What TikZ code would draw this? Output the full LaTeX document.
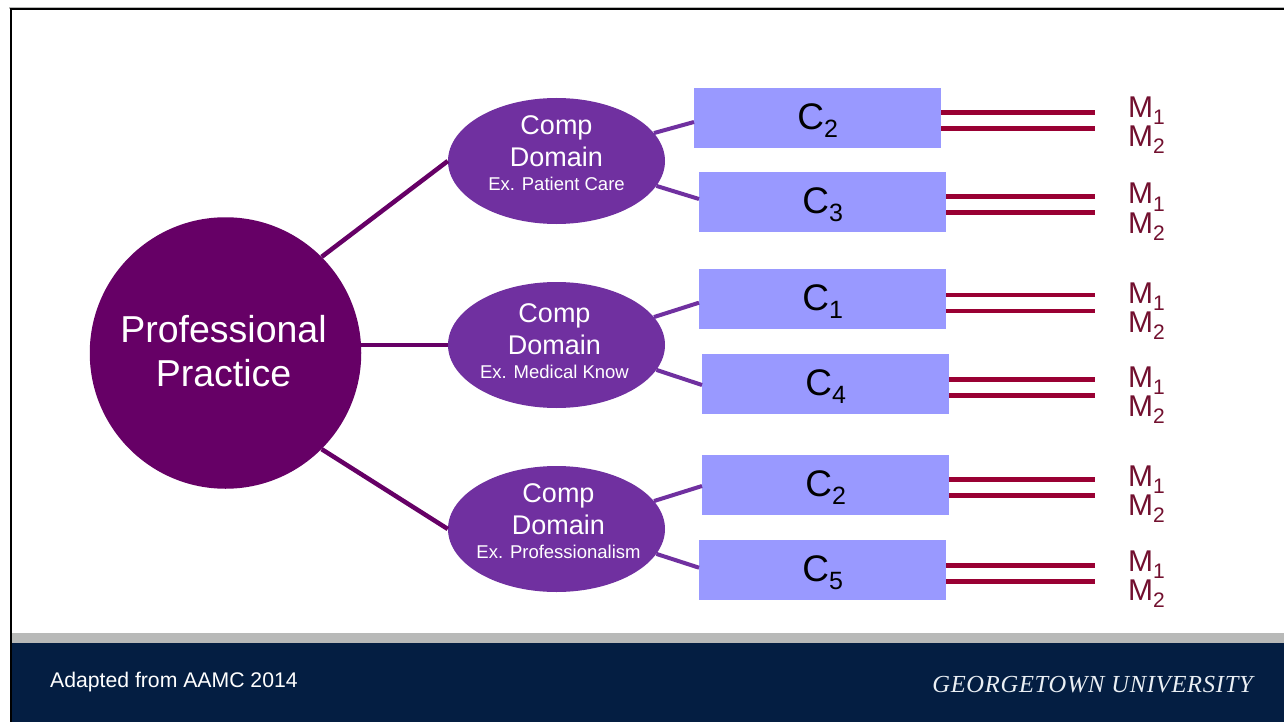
\documentclass[tikz,border=0pt]{standalone}
\usepackage{fontspec}
\setmainfont{Liberation Sans}
\newfontfamily\gufont[LetterSpace=3.0]{Liberation Serif}
\usetikzlibrary{shapes.geometric}
\definecolor{practice}{HTML}{660066}
\definecolor{domain}{HTML}{7030A0}
\definecolor{comp}{HTML}{9999FF}
\definecolor{measure}{HTML}{990033}
\definecolor{mlabel}{HTML}{72102F}
\definecolor{navy}{HTML}{041E42}
\definecolor{band}{HTML}{B8B9B8}
\definecolor{logotext}{HTML}{EAEFF4}
\newcommand{\placed}[3]{\smash{\makebox[0pt]{\kern#1pt\raisebox{#2pt}{#3}}}}
\newcommand{\withsub}[5]{{\fontsize{#1}{#1}\selectfont #3\raisebox{-#4pt}{\fontsize{#2}{#2}\selectfont #5}}}
\newcommand{\domtext}[3]{\placed{#1}{#2}{\parbox[t]{200pt}{\centering\fontsize{27}{32}\selectfont Comp\\Domain\\\fontsize{18.5}{24}\selectfont Ex. #3}}}
\tikzset{
	domnode/.style={ellipse,fill=domain,text=white,minimum width=217pt,minimum height=126pt,inner sep=0pt},
	compnode/.style={rectangle,fill=comp,minimum width=247pt,minimum height=60pt,inner sep=0pt},
	mnode/.style={anchor=base west,text=mlabel,inner sep=0pt},
	linkbig/.style={draw=practice,line width=4.5pt},
	linksmall/.style={draw=domain,line width=4pt},
	linkm/.style={draw=measure,line width=4.5pt}
}
\begin{document}
\begin{tikzpicture}[x=1pt,y=-1pt]
	\useasboundingbox (0,0) rectangle (1284,722);
	\fill[white] (0,0) rectangle (1284,722);
	% frame and footer
	\fill[band] (9,7.5) rectangle (1284,9);
	\fill[black] (10,8.5) rectangle (1284,10.5);
	\fill[black] (9.5,8.5) rectangle (11.5,722);
	\fill[band] (11.5,633) rectangle (1284,643);
	\fill[navy] (11.5,643) rectangle (1284,722);
	\node[anchor=base west,text=white,inner sep=0pt,font=\fontsize{21.2}{22}\selectfont] (source) at (50,687.5) {Adapted from AAMC 2014};
	\node[anchor=base east,text=logotext,inner sep=0pt,font=\gufont\itshape\fontsize{24.5}{25}\selectfont] (logo) at (1253,692.5) {GEORGETOWN UNIVERSITY};
	% main circle and domains
	\node[circle,fill=practice,text=white,minimum size=271.5pt,inner sep=0pt] (pp) at (225.5,353) {\placed{-4}{11}{\parbox[t]{260pt}{\centering\fontsize{37.5}{44}\selectfont Professional\\Practice}}};
	\node[domnode] (dom1) at (556.5,161) {\domtext{0}{26.7}{Patient Care}};
	\node[domnode] (dom2) at (556.5,345) {\domtext{-4}{22.7}{Medical Know}};
	\node[domnode] (dom3) at (556.5,529) {\domtext{4}{26.7}{Professionalism}};
	\draw[linkbig] (pp.45) -- (dom1.west);
	\draw[linkbig] (dom2.west -| pp.east) -- (dom2.west);
	\draw[linkbig] (pp.-45) -- (dom3.west);
	% competencies with two measures each
	\foreach \nm/\num/\xl/\yc/\dm/\ang/\dy/\ym/\yb in {a/2/694/118/dom1/16/4/112.7/117.3,b/3/699/202/dom1/-14/-3/196.3/204,c/1/699/299/dom2/16/3.7/295/303.3,d/4/702/384/dom2/-14/1/379.7/387.3,e/2/702/485/dom3/16/1/479.7/486,f/5/699/570/dom3/-14/-2.3/565.3/571.3}{
		\node[compnode,anchor=west] (c\nm) at (\xl,\yc) {\placed{0}{-11.3}{\withsub{37}{25}{C}{8.5}{\num}}};
		\draw[linksmall] (\dm.\ang) -- ([yshift=-\dy pt]c\nm.west);
		\coordinate (ma\nm) at (1095,\ym);
		\coordinate (mb\nm) at (1095,\ym+16);
		\draw[linkm] (c\nm.east |- ma\nm) -- (ma\nm);
		\draw[linkm] (c\nm.east |- mb\nm) -- (mb\nm);
		\node[mnode] (la\nm) at (1128,\yb) {\withsub{30}{21}{M}{7.5}{1}};
		\node[mnode] (lb\nm) at (1128,\yb+29) {\withsub{30}{21}{M}{7.5}{2}};
	}
\end{tikzpicture}
\end{document}
